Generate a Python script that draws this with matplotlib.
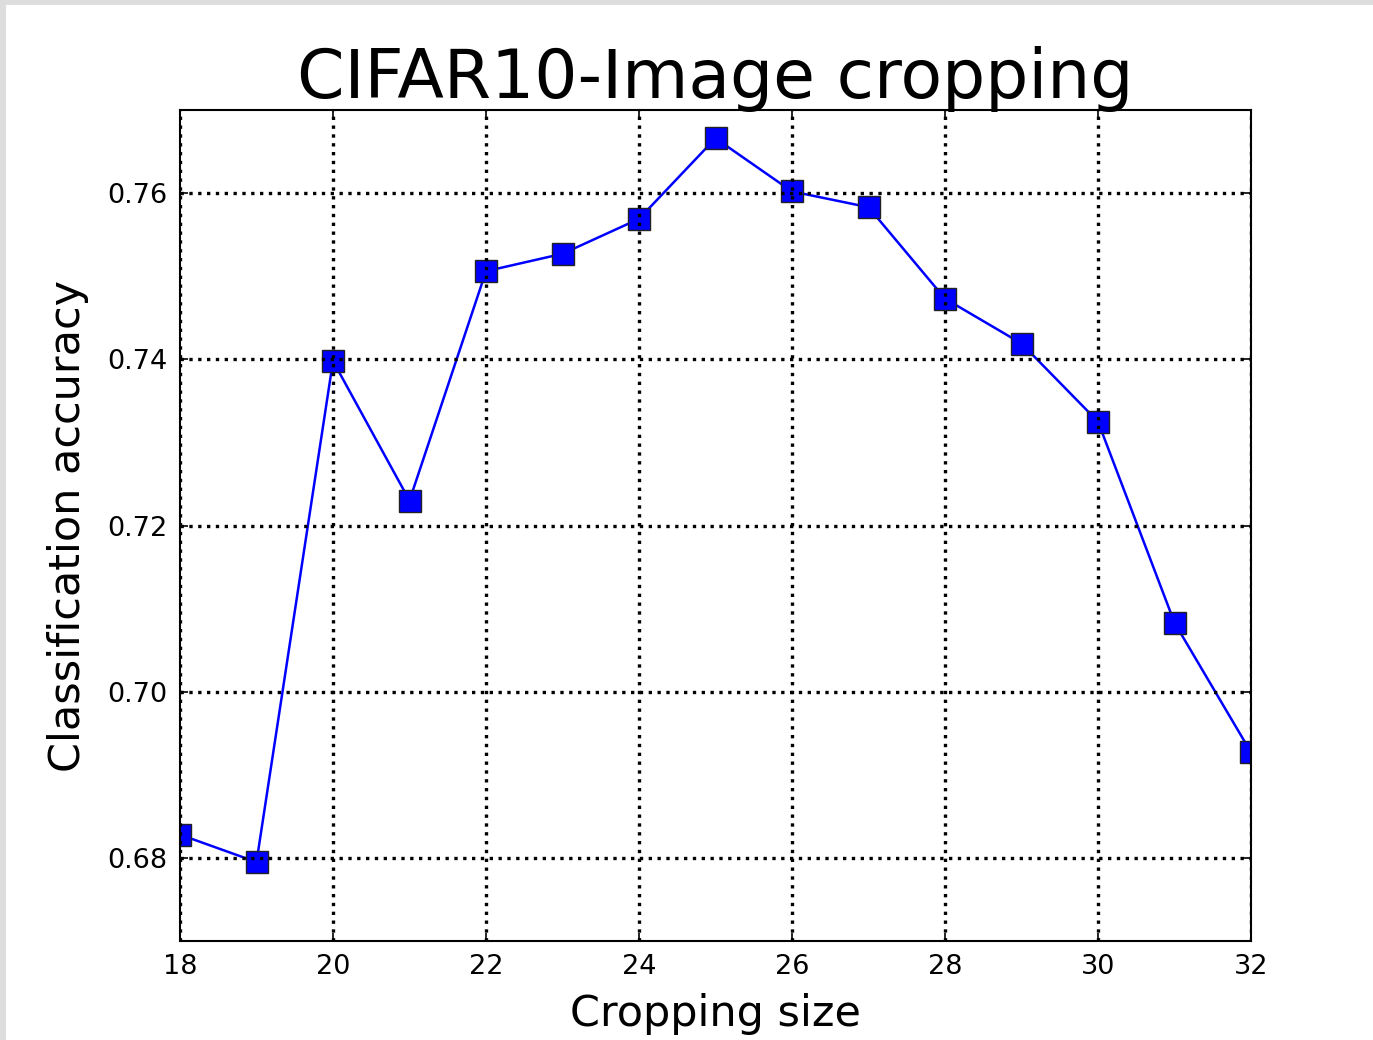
import matplotlib
matplotlib.use('Agg')
import matplotlib.pyplot as plt
from matplotlib.patches import Rectangle

# Cropping size vs accuracy
crop_size = [18, 19, 20, 21, 22, 23, 24, 25, 26, 27, 28, 29, 30, 31, 32]
accuracy = [0.6828, 0.6795, 0.7398, 0.7230, 0.7506, 0.7527, 0.7569, 0.7666,
            0.7602, 0.7583, 0.7473, 0.7419, 0.7325, 0.7083, 0.6927]
y_ticks = [0.68, 0.70, 0.72, 0.74, 0.76]
x_ticks = [18, 20, 22, 24, 26, 28, 30, 32]

fig = plt.figure(figsize=(13.73, 10.40), dpi=100, facecolor='#dddddd')
# white page with a thin gray frame at top / left like the screenshot
fig.patches.append(Rectangle((6 / 1373, 0), 1, 1 - 5 / 1040, transform=fig.transFigure,
                             facecolor='white', edgecolor='none', zorder=-1))

ax = fig.add_axes([180 / 1373, 1 - 941 / 1040, (1251 - 180) / 1373, (941 - 110) / 1040])
ax.plot(crop_size, accuracy, color='blue', linewidth=1.8, marker='s', markersize=15.5,
        markerfacecolor='blue', markeredgecolor='#222222', markeredgewidth=1.0,
        clip_on=True, zorder=2)

ax.set_xlim(18, 32)
ax.set_ylim(0.67, 0.77)
ax.set_xticks(x_ticks)
ax.set_yticks(y_ticks)
ax.set_yticklabels(['%.2f' % v for v in y_ticks])
ax.grid(True, color='black', linestyle=':', linewidth=2.4, zorder=3)
ax.set_axisbelow(False)
ax.tick_params(direction='in', top=True, right=True, length=6, width=1.2,
               labelsize=19.5, pad=9)
for s in ax.spines.values():
    s.set_linewidth(1.5)

ax.set_title('CIFAR10-Image cropping', fontsize=49, pad=9)
ax.set_xlabel('Cropping size', fontsize=31, labelpad=10)
ax.set_ylabel('Classification accuracy', fontsize=31, labelpad=13)

fig.savefig('out.png', dpi=100, facecolor=fig.get_facecolor())
